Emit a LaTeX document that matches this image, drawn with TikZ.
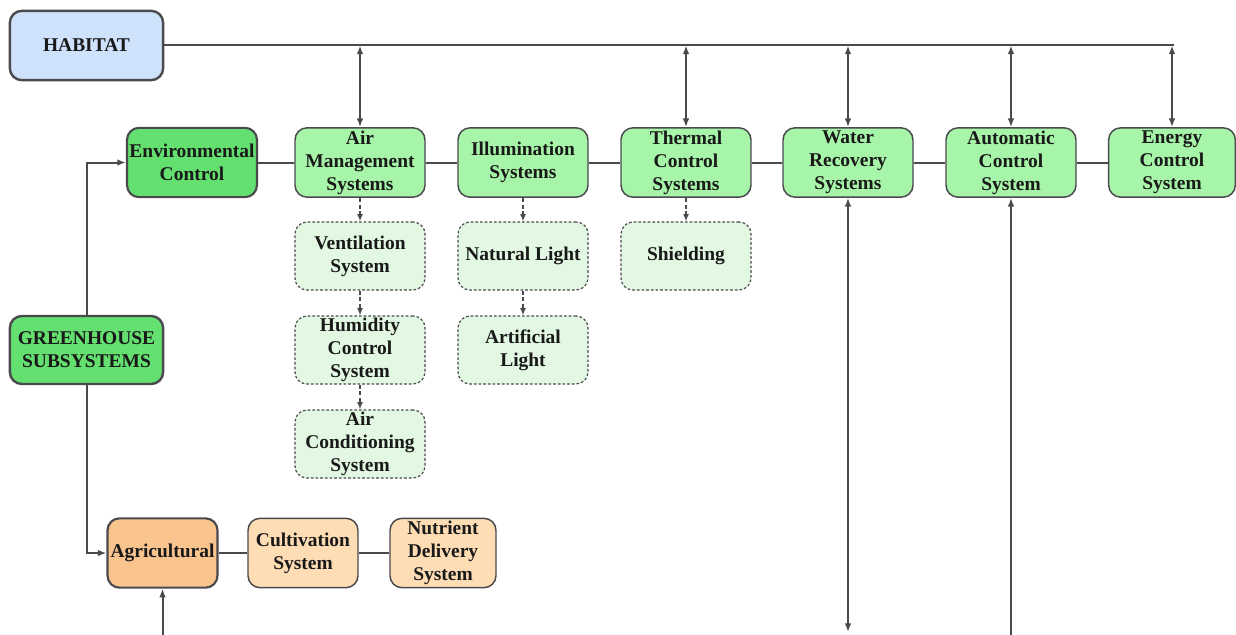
\documentclass[tikz,border=0pt]{standalone}
\usepackage{fontspec}
\setmainfont{Liberation Serif}
\usetikzlibrary{arrows.meta}

\definecolor{edgegray}{RGB}{74,74,78}
\definecolor{habitatblue}{RGB}{207,226,251}
\definecolor{maingreen}{RGB}{100,224,112}
\definecolor{subgreen}{RGB}{167,245,168}
\definecolor{leafgreen}{RGB}{226,248,226}
\definecolor{mainorange}{RGB}{249,196,142}
\definecolor{suborange}{RGB}{254,220,180}

\tikzset{every picture/.style={line width=0.75pt}}
\tikzset{
  box/.style={draw=edgegray, rounded corners=9pt, align=center, inner sep=0.75pt,
    font=\fontsize{14.6}{17.2}\selectfont\bfseries, text=black!90},
  topbox/.style={box, line width=1.8, fill=habitatblue, minimum width=115pt, minimum height=52pt},
  rootbox/.style={box, line width=1.8, fill=maingreen, minimum width=115pt, minimum height=51pt},
  catbox/.style={box, line width=1.6, fill=maingreen, minimum width=97.5pt, minimum height=52pt},
  sysbox/.style={box, line width=1.1, fill=subgreen, minimum width=97.5pt, minimum height=52pt},
  leafbox/.style={box, line width=0.9, dashed, dash pattern=on 2pt off 1.5pt, fill=leafgreen, minimum width=97.5pt, minimum height=51pt},
  agribox/.style={box, line width=1.6, fill=mainorange, minimum width=82.5pt, minimum height=52pt},
  cropbox/.style={box, line width=1.1, fill=suborange, minimum width=82.5pt, minimum height=52pt},
  link/.style={draw=edgegray, line width=1.5},
  flow/.style={link, -{Latex[length=6.5pt,width=5pt]}},
  twoway/.style={link, {Latex[length=6.5pt,width=5pt]}-{Latex[length=6.5pt,width=5pt]}},
  subflow/.style={link, dashed, dash pattern=on 3pt off 2pt, -{Latex[length=5.5pt,width=4.5pt]}}
}

\begin{document}
\begin{tikzpicture}[x=0.75pt,y=0.75pt,yscale=-1,xscale=1]
    \useasboundingbox (0,0) rectangle (1236,635);

    % Habitat and root
    \draw (86.5,45.5) node [topbox] (habitat) {HABITAT};
    \draw (86.5,350) node [rootbox] (greenhouse) {GREENHOUSE\\SUBSYSTEMS};

    % Environmental row
    \draw (192,162.5) node [catbox] (envctrl) {Environmental\\Control};
    \draw (360,162.5) node [sysbox] (airmgmt) {Air\\Management\\Systems};
    \draw (523,162.5) node [sysbox] (illum) {Illumination\\Systems};
    \draw (686,162.5) node [sysbox] (thermal) {Thermal\\Control\\Systems};
    \draw (848,162.5) node [sysbox] (water) {Water\\Recovery\\Systems};
    \draw (1011,162.5) node [sysbox] (autoctrl) {Automatic\\Control\\System};
    \draw (1172,162.5) node [sysbox, minimum width=95pt] (energy) {Energy\\Control\\System};

    % Sub systems (dashed)
    \draw (360,256) node [leafbox] (vent) {Ventilation\\System};
    \draw (360,350) node [leafbox] (humid) {Humidity\\Control\\System};
    \draw (360,444) node [leafbox] (aircon) {Air\\Conditioning\\System};
    \draw (523,256) node [leafbox] (natural) {Natural Light};
    \draw (523,350) node [leafbox] (artificial) {Artificial\\Light};
    \draw (686,256) node [leafbox] (shield) {Shielding};

    % Agricultural row
    \draw (162.5,553) node [agribox] (agri) {Agricultural};
    \draw (303,553) node [cropbox] (cultiv) {Cultivation\\System};
    \draw (443,553) node [cropbox, minimum width=79.5pt] (nutrient) {Nutrient\\Delivery\\System};

    % free ends
    \coordinate (busend) at (1174,45.5);
    \coordinate (agrifeed) at (162.5,640);
    \coordinate (waterend) at (848,632);
    \coordinate (autofeed) at (1011,640);

    % Habitat bus
    \draw [link] (habitat.east) -- (busend);
    \foreach \n in {airmgmt,thermal,water,autoctrl,energy}
      \draw [twoway] (\n.north |- busend) -- (\n.north);

    % Row links
    \draw [link] (envctrl) -- (airmgmt) -- (illum) -- (thermal) -- (water) -- (autoctrl) -- (energy);
    \draw [link] (agri) -- (cultiv) -- (nutrient);

    % Root branches
    \draw [flow] (greenhouse.north) |- (envctrl.west);
    \draw [flow] (greenhouse.south) |- (agri.west);

    % Dashed breakdown
    \draw [subflow] (airmgmt) -- (vent);
    \draw [subflow] (vent) -- (humid);
    \draw [subflow] (humid) -- (aircon);
    \draw [subflow] (illum) -- (natural);
    \draw [subflow] (natural) -- (artificial);
    \draw [subflow] (thermal) -- (shield);

    % Lines from below
    \draw [flow] (agrifeed) -- (agri.south);
    \draw [twoway] (water.south) -- (waterend);
    \draw [flow] (autofeed) -- (autoctrl.south);

\end{tikzpicture}
\end{document}
